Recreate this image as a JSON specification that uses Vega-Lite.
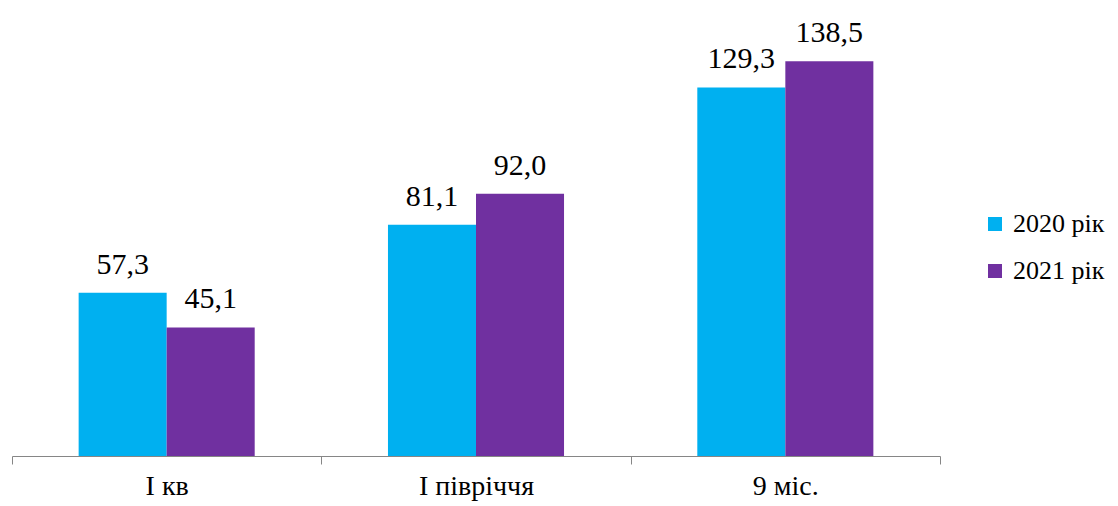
{
  "$schema": "https://vega.github.io/schema/vega-lite/v6.json",
  "autosize": "none",
  "width": 928,
  "height": 456,
  "padding": {"left": 12, "top": 0, "right": 178, "bottom": 50},
  "background": "white",
  "config": {
    "view": {"stroke": null},
    "font": "Liberation Serif",
    "locale": {"number": {"decimal": ",", "thousands": " ", "grouping": [3], "currency": ["", ""]}}
  },
  "data": {
    "values": [
      {"period": "I кв", "year": "2020 рік", "value": 57.3},
      {"period": "I кв", "year": "2021 рік", "value": 45.1},
      {"period": "I півріччя", "year": "2020 рік", "value": 81.1},
      {"period": "I півріччя", "year": "2021 рік", "value": 92.0},
      {"period": "9 міс.", "year": "2020 рік", "value": 129.3},
      {"period": "9 міс.", "year": "2021 рік", "value": 138.5}
    ]
  },
  "encoding": {
    "x": {
      "field": "period", "type": "nominal", "sort": null,
      "scale": {"paddingInner": 0, "paddingOuter": 0},
      "axis": {
        "title": null, "labelAngle": 0, "tickBand": "extent",
        "domainColor": "#868686", "tickColor": "#868686", "tickSize": 8,
        "labelFont": "Liberation Serif", "labelFontSize": 28, "labelColor": "#000000",
        "labelPadding": 8
      }
    },
    "xOffset": {
      "field": "year", "type": "nominal",
      "scale": {"paddingInner": 0, "paddingOuter": 0.757}
    },
    "y": {
      "field": "value", "type": "quantitative",
      "scale": {"domain": [0, 160], "nice": false},
      "axis": null
    }
  },
  "layer": [
    {
      "mark": {"type": "bar"},
      "encoding": {
        "color": {
          "field": "year", "type": "nominal",
          "scale": {"domain": ["2020 рік", "2021 рік"], "range": ["#00B0F0", "#7030A0"]},
          "legend": {
            "title": null, "orient": "none", "legendX": 970, "legendY": 211,
            "symbolType": "square", "symbolSize": 196, "symbolStrokeWidth": 0,
            "labelFont": "Liberation Serif", "labelFontSize": 26, "labelColor": "#000000",
            "rowPadding": 21, "labelOffset": 5
          }
        }
      }
    },
    {
      "mark": {"type": "text", "baseline": "alphabetic", "dy": -19, "font": "Liberation Serif", "fontSize": 30, "color": "#000000"},
      "encoding": {
        "text": {"field": "value", "type": "quantitative", "format": ".1f"}
      }
    }
  ]
}
